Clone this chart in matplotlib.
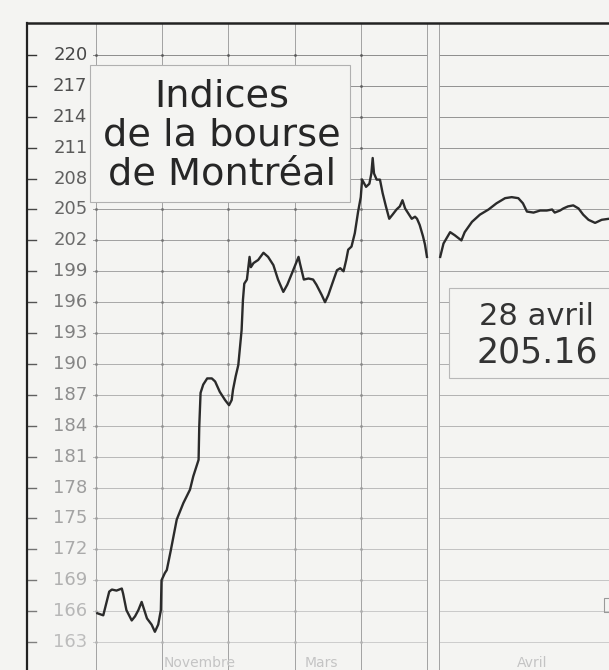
import matplotlib
matplotlib.use('Agg')
import matplotlib.pyplot as plt
from matplotlib.patches import Rectangle
import numpy as np

# valeurs (x = position en jours de bourse, y = indice)
x_left = [0.2, 1.1, 2.0, 2.4, 3.1, 3.9, 4.1, 4.6, 5.4, 5.9, 6.4, 6.9, 7.3, 7.7, 8.4, 8.9,
          9.4, 9.8, 9.9, 10.4, 10.7, 11.3, 12.2, 13.2, 14.2, 14.7, 15.5, 15.6, 15.8, 16.2,
          16.8, 17.5, 18.0, 18.7, 19.5, 20.1, 20.5, 20.7, 21.1, 21.5, 22.0, 22.2, 22.4,
          22.8, 23.2, 23.4, 23.8, 24.5, 25.3, 26.0, 26.8, 27.5, 28.3, 28.9, 29.6, 30.1,
          30.6, 30.8, 31.4, 32.1, 32.8, 33.3, 34.1, 34.6, 35.1, 35.8, 36.4, 36.9, 37.4,
          37.8, 38.1, 38.6, 39.1, 39.6, 40.0, 40.2, 40.8, 41.3, 41.6, 41.8, 42.0, 42.4,
          42.9, 43.3, 43.8, 44.3, 44.8, 45.4, 45.9, 46.3, 46.7, 47.2, 47.7, 48.2, 48.5,
          48.9, 49.4, 49.7, 50.0]
y_left = [165.8, 165.6, 167.9, 168.1, 168.0, 168.2, 167.7, 166.1, 165.1, 165.5, 166.1, 166.9,
          166.1, 165.3, 164.7, 164.0, 164.7, 166.1, 169.0, 169.7, 170.0, 171.9, 174.9, 176.5,
          177.8, 179.1, 180.7, 183.9, 187.2, 188.0, 188.6, 188.6, 188.3, 187.3, 186.5, 186.0,
          186.5, 187.5, 188.8, 189.9, 193.3, 196.2, 197.8, 198.2, 200.4, 199.4, 199.8, 200.1,
          200.8, 200.4, 199.6, 198.2, 197.0, 197.7, 198.8, 199.6, 200.4, 199.8, 198.2, 198.3,
          198.2, 197.7, 196.7, 196.0, 196.7, 198.0, 199.1, 199.3, 199.0, 200.1, 201.1, 201.4,
          202.7, 204.8, 206.2, 207.9, 207.2, 207.5, 208.5, 210.0, 208.5, 207.9, 207.9, 206.6,
          205.3, 204.1, 204.5, 205.0, 205.3, 205.9, 205.1, 204.6, 204.1, 204.3, 204.1, 203.5,
          202.4, 201.6, 200.4]

x_right = [52.0, 52.5, 53.5, 54.2, 55.2, 55.7, 56.8, 58.0, 59.3, 60.5, 61.8, 62.8, 63.8, 64.5,
           65.1, 66.1, 67.1, 68.1, 68.9, 69.3, 70.1, 70.6, 71.3, 72.1, 72.9, 73.6, 74.4,
           75.4, 76.4, 77.5]
y_right = [200.4, 201.7, 202.8, 202.5, 202.0, 202.8, 203.8, 204.5, 205.0, 205.6, 206.1, 206.2,
           206.1, 205.6, 204.8, 204.7, 204.9, 204.9, 205.0, 204.7, 204.9, 205.1, 205.3, 205.4,
           205.1, 204.5, 204.0, 203.7, 204.0, 204.1]

y_ticks = list(range(163, 221, 3))
x_grid = [0, 10, 20, 30, 40, 50]
months = ['Novembre', 'Mars', 'Avril']
month_pos = [15.7, 34.1, 65.9]

bg = '#f4f4f2'
fig = plt.figure(figsize=(6.09, 6.70), dpi=100, facecolor=bg)
ax = fig.add_axes([0, 0, 1, 1])
ax.set_facecolor(bg)
ax.set_xlim(-14.5, 77.5)
ax.set_ylim(160.29, 225.34)
ax.axis('off')

font = 'DejaVu Sans'
x_frame = -10.4
y_top = 223.1
x_gap0, x_gap1 = 50.0, 51.8

# couleur qui pâlit vers le bas (scan délavé)
def fade(v, dark=0.25, light=0.72):
    t = (220 - v) / (220 - 163)
    g = dark + (light - dark) * t
    return (g, g, g)

# grille horizontale + étiquettes
for v in y_ticks:
    c = fade(v, 0.55, 0.8)
    ax.plot([-0.5, x_gap0], [v, v], color=c, lw=0.7, zorder=1)
    ax.plot([x_gap1, 77.5], [v, v], color=c, lw=0.7, zorder=1)
    ax.plot([x_frame, x_frame + 1.4], [v, v], color=fade(v, 0.2, 0.5), lw=1.0, zorder=2)
    ax.text(-1.3, v, str(v), ha='right', va='center', fontsize=13,
            color=fade(v, 0.28, 0.74), family=font, zorder=3)
    ax.scatter(x_grid[:-1], [v] * 5, s=4, color=fade(v, 0.35, 0.7), zorder=2, lw=0)

# grille verticale
for xg in x_grid:
    ax.plot([xg, xg], [160.29, y_top], color='#a2a2a2', lw=0.7, zorder=1)
ax.plot([x_gap1, x_gap1], [160.29, y_top], color='#a2a2a2', lw=0.7, zorder=1)

# cadre
ax.plot([x_frame, x_frame], [160.29, y_top], color='#222222', lw=1.6, zorder=4)
ax.plot([x_frame, 77.5], [y_top, y_top], color='#222222', lw=1.8, zorder=4)

# courbes
ax.plot(x_left, y_left, color='#2b2b2b', lw=1.7, zorder=6, solid_joinstyle='round')
ax.plot(x_right, y_right, color='#2b2b2b', lw=1.7, zorder=6, solid_joinstyle='round')

# encadré du titre
ax.add_patch(Rectangle((-0.9, 205.7), 39.3, 13.3, facecolor=bg, edgecolor='#b0b0b0',
                       lw=0.8, zorder=5))
ax.text(19.0, 212.2, 'Indices\nde la bourse\nde Montréal', ha='center', va='center',
        multialignment='center', fontsize=27.5, linespacing=1.1, color='#262626',
        family=font, zorder=7)

# encadré de la dernière valeur
ax.add_patch(Rectangle((53.3, 188.6), 30, 8.8, facecolor=bg, edgecolor='#b8b8b8',
                       lw=0.8, zorder=5))
ax.text(66.6, 194.6, '28 avril', ha='center', va='center', fontsize=22,
        color='#333333', family=font, zorder=7)
ax.text(66.6, 191.1, '205.16', ha='center', va='center', fontsize=25,
        color='#333333', family=font, zorder=7)

# petit repère en bas à droite
ax.add_patch(Rectangle((76.8, 165.9), 1.2, 1.4, facecolor='none', edgecolor='#999999',
                       lw=0.8, zorder=5))

# mois
for m, p in zip(months, month_pos):
    ax.text(p, 161.0, m, ha='center', va='center', fontsize=10, color='#c4c4c4',
            family=font, zorder=3)

fig.savefig('out.png', dpi=100, facecolor=bg)
